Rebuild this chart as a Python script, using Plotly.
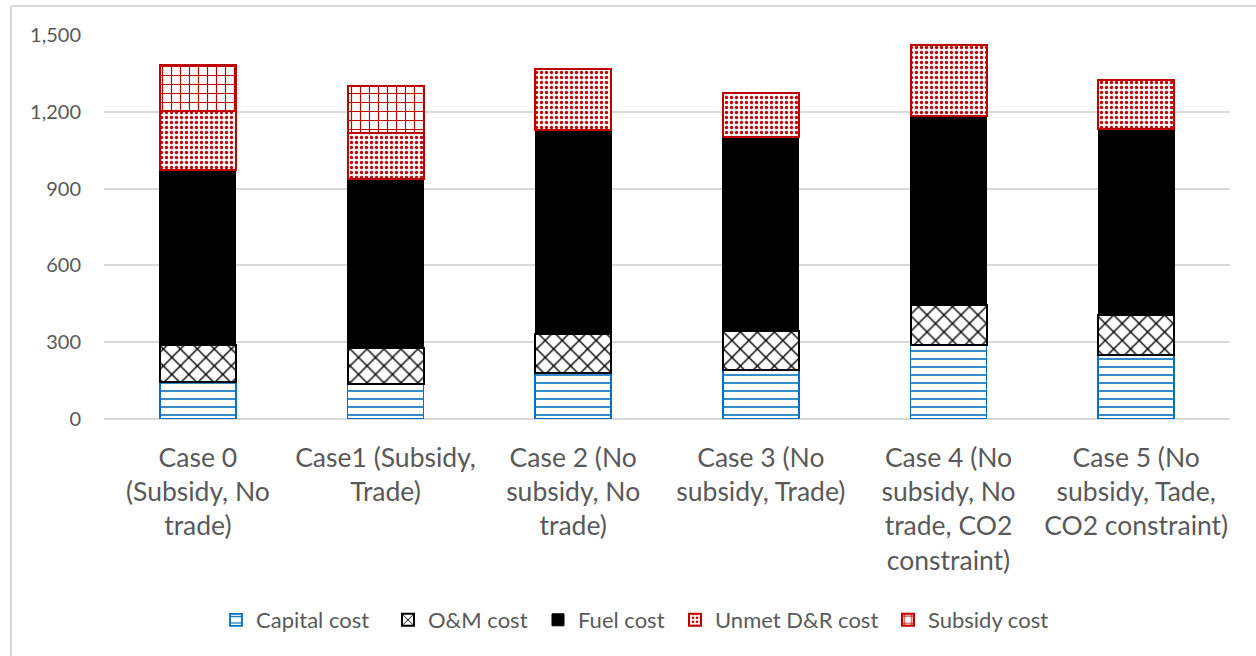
import plotly.graph_objects as go

categories = [
    "Case 0<br>(Subsidy, No<br>trade)",
    "Case1 (Subsidy,<br>Trade)",
    "Case 2 (No<br>subsidy, No<br>trade)",
    "Case 3 (No<br>subsidy, Trade)",
    "Case 4 (No<br>subsidy, No<br>trade, CO2<br>constraint)",
    "Case 5 (No<br>subsidy, Tade,<br>CO2 constraint)",
]
capital_cost = [145, 135, 180, 190, 289, 250]
om_cost = [144, 142, 152, 152, 156, 155]
fuel_cost = [684, 660, 797, 758, 738, 727]
unmet_cost = [230, 180, 238, 172, 278, 192]
subsidy_cost = [180, 183, 0, 0, 0, 0]

W, H = 1256, 656
ml, mr, mt, mb = 104, 26, 35, 237
TXT = "#595959"
FONT = "Lato, Calibri, 'Open Sans', sans-serif"

# legend entry left positions (px)
legend_px = [216, 388, 538, 675, 888]
legend_ids = ["legend", "legend2", "legend3", "legend4", "legend5"]

fig = go.Figure()
series = [
    ("Capital cost", capital_cost, "white", "#0070c0", "-", 1.8, 8, 0.2),
    ("O&M cost", om_cost, "white", "black", "x", 2.0, 12, 0.22),
    ("Fuel cost", fuel_cost, "black", "black", "", 1.0, 8, 0.3),
    ("Unmet D&R cost", unmet_cost, "white", "#c00000", ".", 2.0, 5, 0.35),
    ("Subsidy cost", subsidy_cost, "white", "#c00000", "+", 2.0, 9, 0.25),
]
for i, (name, vals, bg, fg, shape, lw, sz, sol) in enumerate(series):
    marker = dict(color=bg, line=dict(color=fg, width=lw))
    if shape:
        marker["pattern"] = dict(shape=shape, fgcolor=fg, bgcolor=bg,
                                 size=sz, solidity=sol, fillmode="replace")
    fig.add_trace(go.Bar(name=name, x=categories, y=vals, marker=marker,
                         legend=legend_ids[i]))

layout_legends = {}
for lid, px in zip(legend_ids, legend_px):
    layout_legends[lid] = dict(
        orientation="h", xref="container", yref="container",
        x=px / W, xanchor="left", y=1 - 620 / H, yanchor="middle",
        font=dict(size=22, color=TXT), itemwidth=30, bgcolor="rgba(0,0,0,0)",
    )

fig.update_layout(
    barmode="stack",
    bargap=0.595,
    width=W, height=H,
    margin=dict(l=ml, r=mr, t=mt, b=mb),
    paper_bgcolor="white",
    plot_bgcolor="white",
    font=dict(family=FONT, color=TXT, size=21),
    xaxis=dict(tickfont=dict(size=26.5, color=TXT), showgrid=False,
               showline=False, ticks="", ticklabelstandoff=20),
    yaxis=dict(range=[0, 1500], tickvals=[0, 300, 600, 900, 1200, 1500],
               tickformat=",", showgrid=True, gridcolor="#d9d9d9", gridwidth=2,
               zeroline=True, zerolinecolor="#d9d9d9", zerolinewidth=2,
               tickfont=dict(size=20, color=TXT), ticklabelstandoff=22),
    showlegend=True,
    **layout_legends,
)

pw = W - ml - mr
ph = H - mt - mb
x0 = (11 - ml) / pw
y1 = (H - mb - 6) / ph
fig.add_shape(type="line", xref="paper", yref="paper", x0=x0, x1=x0,
              y0=(H - mb - H - 5) / ph, y1=y1, line=dict(color="#d9d9d9", width=2))
fig.add_shape(type="line", xref="paper", yref="paper", x0=x0, x1=(W + 5 - ml) / pw,
              y0=y1, y1=y1, line=dict(color="#d9d9d9", width=2))

fig.write_html("out.html")
